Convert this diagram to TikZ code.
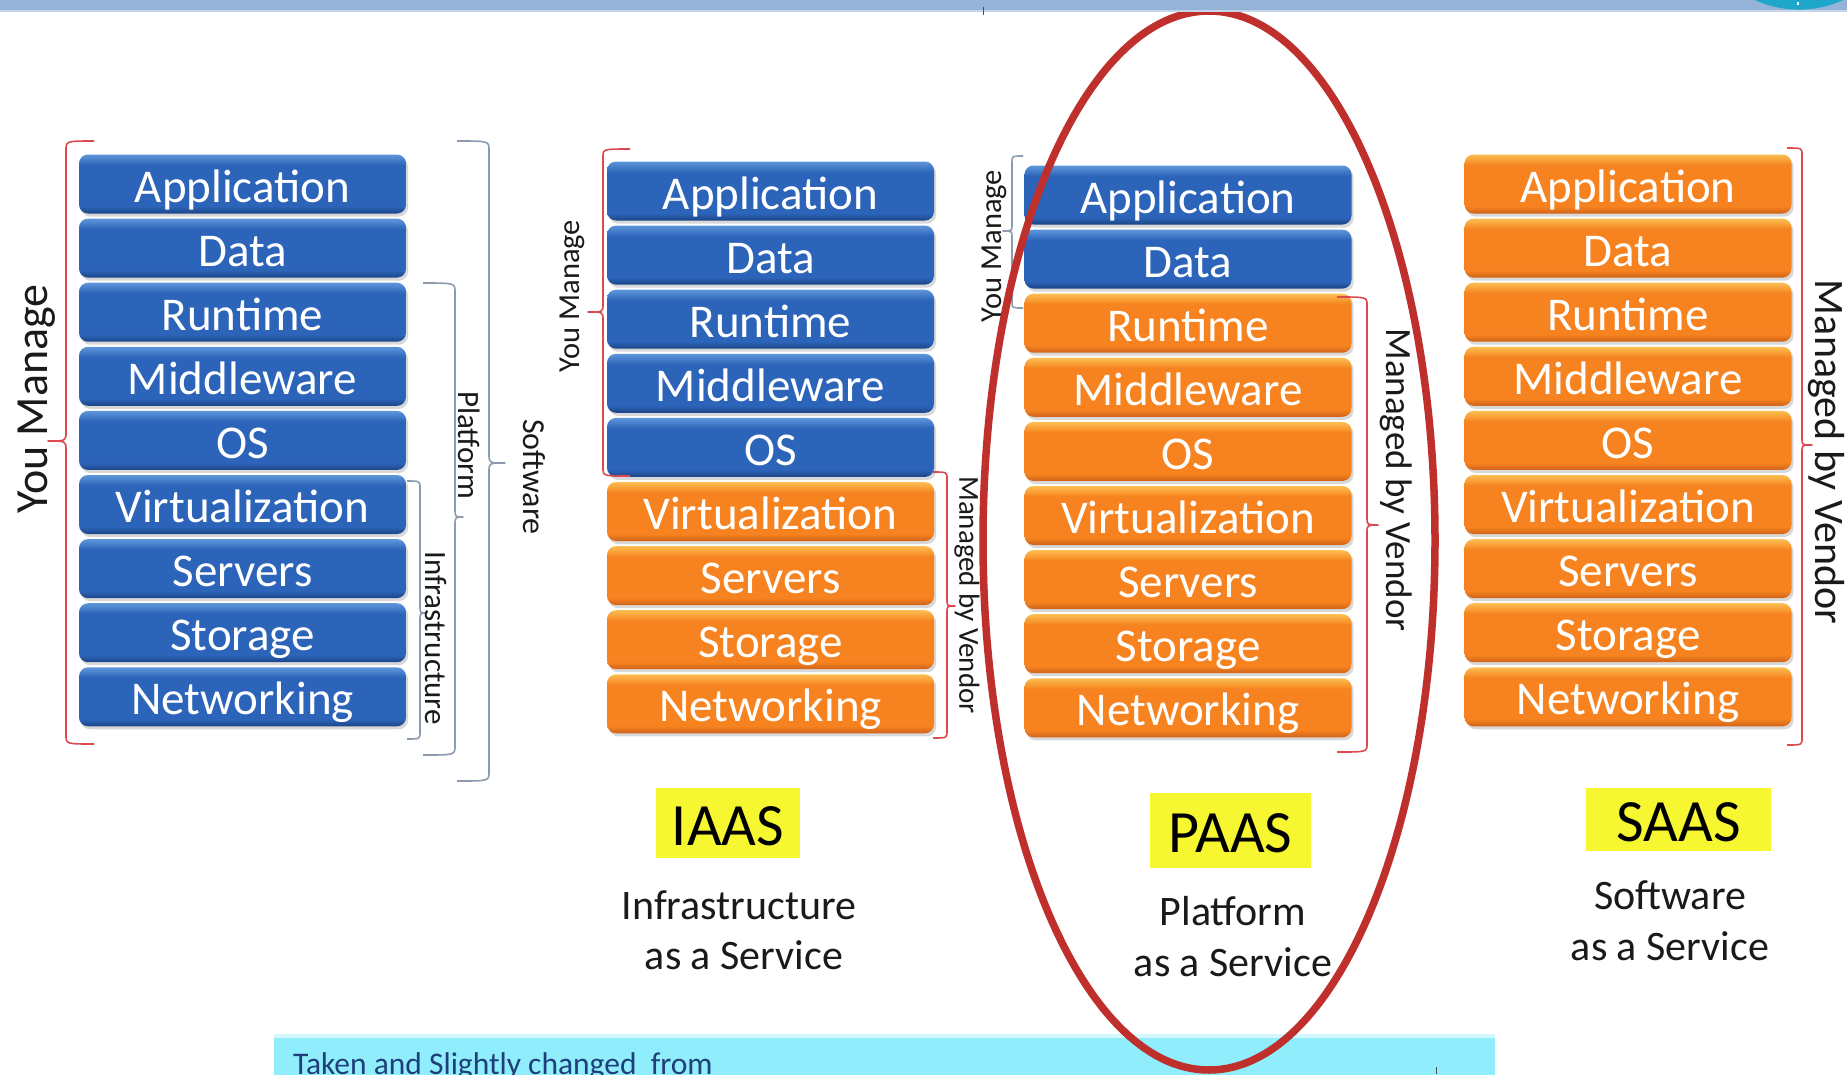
\documentclass[tikz,border=0pt]{standalone}
\usepackage{fontspec}
\setmainfont{Carlito}
\usetikzlibrary{shadows}

\definecolor{barblue}{HTML}{95B3D7}
\definecolor{barlight}{HTML}{C5D5EA}
\definecolor{infocirc}{HTML}{1EA7CB}
\definecolor{bluelight}{HTML}{5E96DC}
\definecolor{bluemain}{HTML}{2C64B9}
\definecolor{bluedark}{HTML}{1B4486}
\definecolor{orlight}{HTML}{FCBE52}
\definecolor{ormain}{HTML}{F6831F}
\definecolor{ordark}{HTML}{CF621A}
\definecolor{bred}{HTML}{DC4A50}
\definecolor{bgray}{HTML}{8C9BAE}
\definecolor{ellred}{HTML}{BF2F2C}
\definecolor{tagyellow}{HTML}{F6F631}
\definecolor{notecyan}{HTML}{90EDFB}
\definecolor{notetext}{HTML}{1F3F7A}
\definecolor{ink}{HTML}{1A1A1A}

\pgfdeclareverticalshading{blueshade}{100bp}{color(0bp)=(bluedark); color(25bp)=(bluedark); color(31bp)=(bluemain); color(66bp)=(bluemain); color(75bp)=(bluelight); color(100bp)=(bluelight)}
\pgfdeclareverticalshading{orangeshade}{100bp}{color(0bp)=(ordark); color(25bp)=(ordark); color(31bp)=(ormain); color(66bp)=(ormain); color(75bp)=(orlight); color(100bp)=(orlight)}

% #1 color, #2 x hook, #3 x line, #4 x tip, #5 y top, #6 y mid, #7 y bottom, #8 radius
\newcommand\mybrace[8]{%
  \draw[#1, line width=1.6pt, line join=round]
    (#2,-#5) .. controls (#3,-#5) .. (#3,{-#5-#8}) -- (#3,{-#6+#8})
    .. controls (#3,-#6) .. (#4,-#6) .. controls (#3,-#6) .. (#3,{-#6-#8})
    -- (#3,{-#7+#8}) .. controls (#3,-#7) .. (#2,-#7);}

% #1 prefix, #2 x, #3 y of first centre, #4 number of blue layers
\newcommand\mystack[4]{%
  \foreach \n [count=\i from 0] in {Application,Data,Runtime,Middleware,OS,Virtualization,Servers,Storage,Networking}{%
    \ifnum\i<#4\relax\def\shd{blueshade}\else\def\shd{orangeshade}\fi
    \node[layer, shading=\shd] (#1\i) at (#2,{-#3-64.1*\i}) {\n};
  }}

\tikzset{
  layer/.style={rounded corners=9pt, minimum width=327pt, minimum height=59pt,
    inner sep=0pt, text height=40pt, text depth=4pt, text=white,
    font=\fontsize{47}{50}\selectfont, shade,
    drop shadow={shadow xshift=2pt, shadow yshift=-3pt, opacity=0.3}},
  side/.style={text=ink, inner sep=0pt},
  tag/.style={fill=tagyellow, inner sep=0pt, text=black,
    font=\fontsize{60}{62}\selectfont, text height=46pt, text depth=1.4pt},
  sub/.style={text=ink, inner sep=0pt, font=\fontsize{42}{44}\selectfont},
}

\begin{document}
\begin{tikzpicture}[x=1pt,y=1pt]
\useasboundingbox (0,0) rectangle (1847,-1074);
\clip (0,0) rectangle (1847,-1074);
\fill[white] (0,0) rectangle (1847,-1074);

% stacks
\mystack{a}{242.5}{184}{9}
\mystack{b}{770.5}{191}{5}
\mystack{c}{1188}{195}{2}
\mystack{d}{1628}{184}{0}

% braces
\mybrace{bred}{94}{66}{48}{141}{441}{744}{9}
\mybrace{bgray}{423}{455}{463}{283}{517}{755}{9}
\mybrace{bgray}{407}{420}{427}{481}{613}{739}{7}
\mybrace{bgray}{457}{489}{505}{141}{463}{781}{9}
\mybrace{bred}{630}{603}{588}{149}{312}{476}{8}
\mybrace{bred}{933}{947}{955}{472}{606}{738}{7}
\mybrace{bgray}{1023}{1012}{1003}{156}{231}{308}{6}
\mybrace{bred}{1337}{1367}{1378}{297}{525}{752}{8}
\mybrace{bred}{1787}{1802}{1812}{148}{445}{745}{7}

% side labels
\node[side, rotate=90, font=\fontsize{46}{48}\selectfont] (ym1) at (37,-399) {You Manage};
\node[side, rotate=-90, font=\fontsize{31}{33}\selectfont] (pl1) at (469,-445) {Platform};
\node[side, rotate=-90, font=\fontsize{31}{33}\selectfont] (in1) at (436,-638) {Infrastructure};
\node[side, rotate=-90, font=\fontsize{32}{34}\selectfont] (sw1) at (534,-477) {Software};
\node[side, rotate=90, font=\fontsize{30.5}{32}\selectfont] (ym2) at (572,-296) {You Manage};
\node[side, rotate=-90, font=\fontsize{29}{31}\selectfont] (mv2) at (967,-595) {Managed by Vendor};
\node[side, rotate=90, font=\fontsize{30.5}{32}\selectfont] (ym3) at (994,-246) {You Manage};
\node[side, rotate=-90, font=\fontsize{37}{39}\selectfont] (mv3) at (1396,-480) {Managed by Vendor};
\node[side, rotate=-90, font=\fontsize{42}{44}\selectfont] (mv4) at (1826,-452) {Managed by Vendor};

% tags
\node[tag, minimum width=144pt, minimum height=70pt] (iaas) at (728,-823) {IAAS};
\node[tag, minimum width=161pt, minimum height=75pt] (paas) at (1230.5,-830.5) {PAAS};
\node[tag, minimum width=185pt, minimum height=63pt] (saas) at (1678.5,-819.5) {SAAS};

\node[sub] (iaas1) at (739,-905) {Infrastructure};
\node[sub] (iaas2) at (744,-955) {as a Service};
\node[sub] (paas1) at (1233,-911) {Platform};
\node[sub] (paas2) at (1233,-962) {as a Service};
\node[sub] (saas1) at (1670,-895) {Software};
\node[sub] (saas2) at (1670,-946) {as a Service};

% note box
\fill[notecyan] (274,-1037) rectangle (1495,-1080);
\fill[notecyan!40] (274,-1034) rectangle (1495,-1037.5);
\node[anchor=base west, inner sep=0pt, text=notetext, font=\fontsize{31.5}{33}\selectfont] (note) at (293,-1074) {Taken and Slightly changed\ \ from};
\draw[black!70, line width=0.8pt] (1436,-1067) -- (1436,-1074);

% ellipse
\draw[ellred, line width=7.5pt] (1209,-540.5) ellipse [x radius=226, y radius=529.5];

% top bar
\fill[barblue] (0,0) rectangle (1847,-10);
\fill[barlight] (0,-10) rectangle (1847,-11.5);
\fill[infocirc] (1799,97) circle (106.6);
\fill[white] (1797.3,-1.5) rectangle (1798.8,-4.5);
\draw[red, line width=1pt] (983,-7) -- (983,-15);
\end{tikzpicture}
\end{document}
